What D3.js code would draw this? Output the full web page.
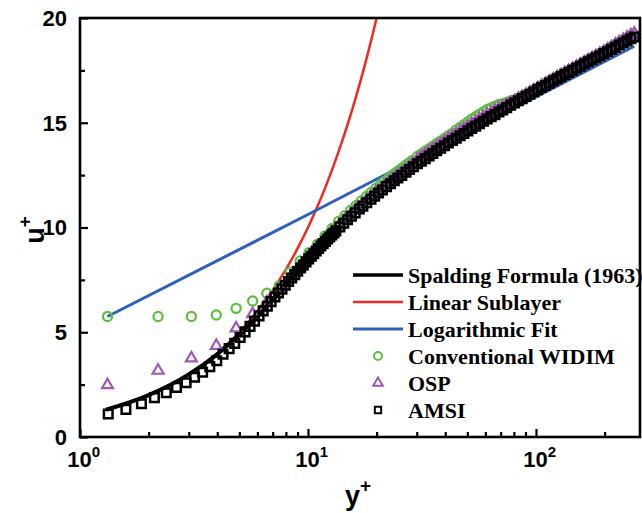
<!DOCTYPE html>
<html>
<head>
<meta charset="utf-8">
<script src="https://cdnjs.cloudflare.com/ajax/libs/d3/7.8.5/d3.min.js"></script>
<style>
  html, body { margin: 0; padding: 0; background: #fff; }
  svg { display: block; }
</style>
</head>
<body>
<svg id="chart" width="642" height="513"></svg>
<script>
// ---------------- DATA ----------------
const xMajorTicks = [1, 10, 100];
const xMajorExp = ["0", "1", "2"];
const xMinorTicks = [2, 3, 4, 5, 6, 7, 8, 9, 20, 30, 40, 50, 60, 70, 80, 90, 200];
const yMajorTicks = [0, 5, 10, 15, 20];
const yMinorTicks = [2.5, 7.5, 12.5, 17.5];

const legendLabels = ["Spalding Formula (1963)", "Linear Sublayer", "Logarithmic Fit",
                      "Conventional WIDIM", "OSP", "AMSI"];

// Spalding formula (1963) curve
const spaldingYPlus = [1.3, 2.0, 3.01, 4.05, 5.12, 6.29, 6.92, 7.6, 8.34, 9.16, 10.07, 11.12, 12.31,
  13.71, 15.35, 17.29, 19.61, 22.4, 29.85, 40.88, 57.37, 82.1, 119.3, 175.5, 260.1, 270];
const spaldingU = [1.3, 2.0, 3.0, 4.0, 5.0, 6.0, 6.5, 7.0, 7.5, 8.0, 8.5, 9.0, 9.5,
  10.0, 10.5, 11.0, 11.5, 12.0, 13.0, 14.0, 15.0, 16.0, 17.0, 18.0, 19.0, 19.07];

// Linear sublayer
const linearYPlus = [1.32, 1.6, 2, 2.5, 3, 4, 5, 6, 7, 8, 9, 10, 11, 12, 13, 14, 15, 16, 17, 18, 19, 20];
const linearU     = [1.32, 1.6, 2, 2.5, 3, 4, 5, 6, 7, 8, 9, 10, 11, 12, 13, 14, 15, 16, 17, 18, 19, 20];

// Logarithmic fit
const logYPlus = [1.32, 10, 100, 270];
const logU     = [5.75, 10.62, 16.23, 18.65];

// AMSI (fine grid)
const amsiYPlus = [1.33,1.59,1.86,2.12,2.39,2.65,2.92,3.18,3.45,3.71,
  3.98,4.24,4.51,4.77,5.04,5.30,5.57,5.83,6.10,6.36,
  6.63,6.89,7.16,7.42,7.69,7.95,8.22,8.48,8.75,9.01,
  9.28,9.54,9.81,10.07,10.34,10.60,10.87,11.13,11.40,11.66,
  11.93,12.19,12.46,12.72,12.99,13.25,
  13.8,14.35,14.9,15.5,16.1,16.8,17.4,18.1,18.9,19.6,
  20.4,21.2,22.1,23.0,23.9,24.8,25.8,26.9,27.9,29.0,
  30.2,31.4,32.7,34.0,35.3,36.7,38.2,39.7,41.3,43.0,
  44.7,46.5,48.3,50.3,52.3,54.4,56.5,58.8,61.1,63.6,
  66.1,68.8,71.5,74.4,77.4,80.5,83.7,87.0,90.5,94.1,
  97.9,101.8,105.9,110.1,114.5,119.1,123.9,128.8,134.0,139.3,
  144.9,150.7,156.7,163.0,169.5,176.3,183.3,190.7,198.3,206.2,
  214.5,223.1,232.0,241.3,250.9,260.9,270.0];
const amsiU = [1.10,1.32,1.59,1.88,2.11,2.37,2.59,2.85,3.09,3.36,
  3.64,3.95,4.22,4.47,4.75,5.02,5.28,5.53,5.78,6.02,
  6.24,6.46,6.68,6.87,7.06,7.24,7.42,7.59,7.75,7.91,
  8.07,8.21,8.36,8.50,8.63,8.75,8.88,9.00,9.12,9.23,
  9.34,9.45,9.55,9.65,9.74,9.84,
  10.03,10.20,10.37,10.54,10.70,10.88,11.02,11.18,11.35,11.50,
  11.65,11.79,11.95,12.09,12.23,12.36,12.49,12.64,12.77,12.90,
  13.04,13.16,13.29,13.41,13.53,13.66,13.78,13.90,14.03,14.15,
  14.26,14.38,14.49,14.61,14.73,14.84,14.95,15.07,15.18,15.29,
  15.39,15.51,15.61,15.72,15.84,15.94,16.05,16.15,16.26,16.36,
  16.47,16.58,16.68,16.78,16.89,17.00,17.10,17.20,17.30,17.40,
  17.50,17.60,17.70,17.81,17.91,18.01,18.10,18.20,18.30,18.40,
  18.50,18.60,18.71,18.81,18.91,19.01,19.09];

// Conventional WIDIM and OSP (coarse grid)
const coarseYPlus = [1.32,2.2,3.08,3.96,4.84,5.72,6.6,7.48,8.36,9.24,
  10.12,11.0,11.88,12.76,13.64,14.52,15.4,16.28,17.16,18.04,
  18.92,19.8,20.68,21.56,22.44,23.32,24.2,25.08,25.96,26.84,
  27.72,28.6,
  30.2,31.4,32.7,34.0,35.3,36.7,38.2,39.7,41.3,43.0,
  44.7,46.5,48.3,50.3,52.3,54.4,56.5,58.8,61.1,63.6,
  66.1,68.8,71.5,74.4,77.4,80.5,83.7,87.0,90.5,94.1,
  97.9,101.8,105.9,110.1,114.5,119.1,123.9,128.8,134.0,139.3,
  144.9,150.7,156.7,163.0,169.5,176.3,183.3,190.7,198.3,206.2,
  214.5,223.1,232.0,241.3,250.9,260.9,270.0];
const widimU = [5.75,5.75,5.75,5.82,6.14,6.49,6.86,7.22,7.88,8.40,
  8.80,9.20,9.60,9.95,10.30,10.56,10.82,11.05,11.28,11.48,
  11.67,11.86,12.02,12.18,12.33,12.47,12.60,12.73,12.85,12.97,
  13.08,13.19,
  13.39,13.51,13.64,13.76,13.88,14.01,14.13,14.25,14.38,14.50,
  14.66,14.78,14.91,15.04,15.18,15.29,15.40,15.52,15.63,15.71,
  15.79,15.87,15.91,15.97,16.04,16.09,16.17,16.25,16.34,16.44,
  16.55,16.66,16.76,16.86,16.97,17.08,17.18,17.28,17.38,17.48,
  17.58,17.68,17.78,17.89,17.99,18.09,18.19,18.29,18.39,18.50,
  18.62,18.72,18.83,18.93,19.03,19.13,19.22];
const ospU = [2.48,3.17,3.76,4.36,5.19,5.87,6.43,7.05,7.60,8.12,
  8.62,9.04,9.42,9.76,10.10,10.38,10.63,10.87,11.09,11.29,
  11.48,11.66,11.82,11.98,12.13,12.26,12.39,12.52,12.64,12.75,
  12.88,13.00,
  13.24,13.36,13.49,13.61,13.73,13.86,13.98,14.10,14.23,14.35,
  14.47,14.59,14.70,14.82,14.94,15.05,15.16,15.28,15.39,15.49,
  15.58,15.69,15.76,15.84,15.95,16.04,16.14,16.24,16.34,16.44,
  16.55,16.66,16.76,16.86,16.97,17.08,17.18,17.28,17.38,17.48,
  17.58,17.68,17.78,17.89,17.99,18.09,18.19,18.29,18.39,18.50,
  18.62,18.73,18.85,18.96,19.07,19.17,19.26];

// ---------------- STYLE ----------------
const colBlack = "#000000", colRed = "#ee2a24", colBlue = "#2f5fbd",
      colGreen = "#5cbf3f", colPurple = "#a256b8";

const svg = d3.select("#chart");
svg.append("rect").attr("width", 642).attr("height", 513).attr("fill", "#fff");

const plotL = 80, plotR = 640, plotT = 18, plotB = 437;
const x = d3.scaleLog().domain([1, 286]).range([plotL, plotR]);
const y = d3.scaleLinear().domain([0, 20]).range([plotB, plotT]);

const zip = (xs, ys) => xs.map((v, i) => [v, ys[i]]);
const line = d3.line().x(d => x(d[0])).y(d => y(d[1])).curve(d3.curveMonotoneX);
const straight = d3.line().x(d => x(d[0])).y(d => y(d[1]));

const plot = svg.append("g");

// lines
plot.append("path").attr("d", line(zip(linearYPlus, linearU)))
  .attr("fill", "none").attr("stroke", colRed).attr("stroke-width", 2.5);
plot.append("path").attr("d", line(zip(spaldingYPlus, spaldingU)))
  .attr("fill", "none").attr("stroke", colBlack).attr("stroke-width", 4);
plot.append("path").attr("d", straight(zip(logYPlus, logU)))
  .attr("fill", "none").attr("stroke", colBlue).attr("stroke-width", 3);

// markers
const circleR = 4.6;
plot.append("g").selectAll("circle").data(zip(coarseYPlus, widimU)).join("circle")
  .attr("cx", d => x(d[0])).attr("cy", d => y(d[1])).attr("r", circleR)
  .attr("fill", "none").attr("stroke", colGreen).attr("stroke-width", 2.2);

const tri = d3.symbol().type(d3.symbolTriangle).size(52);
plot.append("g").selectAll("path").data(zip(coarseYPlus, ospU)).join("path")
  .attr("d", tri).attr("transform", d => `translate(${x(d[0])},${y(d[1])})`)
  .attr("fill", "none").attr("stroke", colPurple).attr("stroke-width", 2.2);

const sq = d3.symbol().type(d3.symbolSquare).size(74);
plot.append("g").selectAll("path").data(zip(amsiYPlus, amsiU)).join("path")
  .attr("d", sq).attr("transform", d => `translate(${x(d[0])},${y(d[1])})`)
  .attr("fill", "none").attr("stroke", colBlack).attr("stroke-width", 2.5);

// ---------------- AXES ----------------
const fontSans = "Arial, 'Liberation Sans', sans-serif";
const fontSerif = "'Times New Roman', 'Liberation Serif', serif";

const xAxisMajor = d3.axisBottom(x).tickValues(xMajorTicks).tickSizeInner(-8).tickSizeOuter(0).tickPadding(14)
  .tickFormat(() => "");
const gx = svg.append("g").attr("transform", `translate(0,${plotB})`).call(xAxisMajor);
const xAxisMinor = d3.axisBottom(x).tickValues(xMinorTicks).tickSizeInner(-5).tickSizeOuter(0).tickFormat(() => "");
const gx2 = svg.append("g").attr("transform", `translate(0,${plotB})`).call(xAxisMinor);

const yAxisMajor = d3.axisLeft(y).tickValues(yMajorTicks).tickSizeInner(-8).tickSizeOuter(0).tickPadding(12)
  .tickFormat(d3.format("d"));
const gy = svg.append("g").attr("transform", `translate(${plotL},0)`).call(yAxisMajor);
const yAxisMinor = d3.axisLeft(y).tickValues(yMinorTicks).tickSizeInner(-5).tickSizeOuter(0).tickFormat(() => "");
const gy2 = svg.append("g").attr("transform", `translate(${plotL},0)`).call(yAxisMinor);

[gx, gx2, gy, gy2].forEach(g => {
  g.select(".domain").remove();
  g.selectAll(".tick line").attr("stroke", "#000").attr("stroke-width", 2.2);
});

gy.selectAll(".tick text")
  .attr("font-family", fontSans).attr("font-weight", "bold").attr("font-size", 22)
  .attr("fill", "#000").attr("x", -13).attr("dy", "0.33em");

// x tick labels 10^n with superscript; the "10" is centred on the tick
gx.selectAll(".tick").each(function(d, i) {
  const t = d3.select(this).select("text")
    .attr("font-family", fontSans).attr("font-weight", "bold").attr("font-size", 22)
    .attr("fill", "#000").attr("y", 30).attr("dy", 0).attr("text-anchor", "start");
  t.text(null);
  const base = t.append("tspan").text("10");
  t.append("tspan").attr("font-size", 15).attr("dy", -10).text(xMajorExp[i]);
  const w = base.node().getComputedTextLength();
  t.attr("x", -w / 2 - 1);
});

// frame
svg.append("rect").attr("x", plotL).attr("y", plotT).attr("width", plotR - plotL).attr("height", plotB - plotT)
  .attr("fill", "none").attr("stroke", "#000").attr("stroke-width", 2.6);

// axis titles
const xt = svg.append("text").attr("x", 358).attr("y", 505).attr("text-anchor", "middle")
  .attr("font-family", fontSans).attr("font-weight", "bold").attr("font-size", 27).attr("fill", "#000");
xt.append("tspan").text("y");
xt.append("tspan").attr("font-size", 19).attr("dy", -13).text("+");

const yt = svg.append("text").attr("transform", "translate(44,230) rotate(-90)").attr("text-anchor", "middle")
  .attr("font-family", fontSans).attr("font-weight", "bold").attr("font-size", 27).attr("fill", "#000");
yt.append("tspan").text("u");
yt.append("tspan").attr("font-size", 19).attr("dy", -13).text("+");

// ---------------- LEGEND ----------------
const legX0 = 353, legX1 = 403, legText = 408, legY0 = 275, legDy = 27;
const lg = svg.append("g");
const legStyles = [
  {type: "line", color: colBlack, w: 3.5},
  {type: "line", color: colRed, w: 2.5},
  {type: "line", color: colBlue, w: 3},
  {type: "circle", color: colGreen},
  {type: "tri", color: colPurple},
  {type: "sq", color: colBlack}
];
legendLabels.forEach((lab, i) => {
  const yy = legY0 + i * legDy;
  const s = legStyles[i];
  const cx = (legX0 + legX1) / 2;
  if (s.type === "line") {
    lg.append("line").attr("x1", legX0).attr("x2", legX1).attr("y1", yy).attr("y2", yy)
      .attr("stroke", s.color).attr("stroke-width", s.w);
  } else if (s.type === "circle") {
    lg.append("circle").attr("cx", cx).attr("cy", yy).attr("r", 4)
      .attr("fill", "none").attr("stroke", s.color).attr("stroke-width", 2);
  } else if (s.type === "tri") {
    lg.append("path").attr("d", d3.symbol().type(d3.symbolTriangle).size(40))
      .attr("transform", `translate(${cx},${yy})`)
      .attr("fill", "none").attr("stroke", s.color).attr("stroke-width", 2);
  } else {
    lg.append("path").attr("d", d3.symbol().type(d3.symbolSquare).size(40))
      .attr("transform", `translate(${cx},${yy})`)
      .attr("fill", "none").attr("stroke", s.color).attr("stroke-width", 2);
  }
  lg.append("text").attr("x", legText).attr("y", yy).attr("dy", "0.35em")
    .attr("font-family", fontSerif).attr("font-weight", "bold").attr("font-size", 22)
    .attr("fill", "#000").text(lab);
});
</script>
</body>
</html>
